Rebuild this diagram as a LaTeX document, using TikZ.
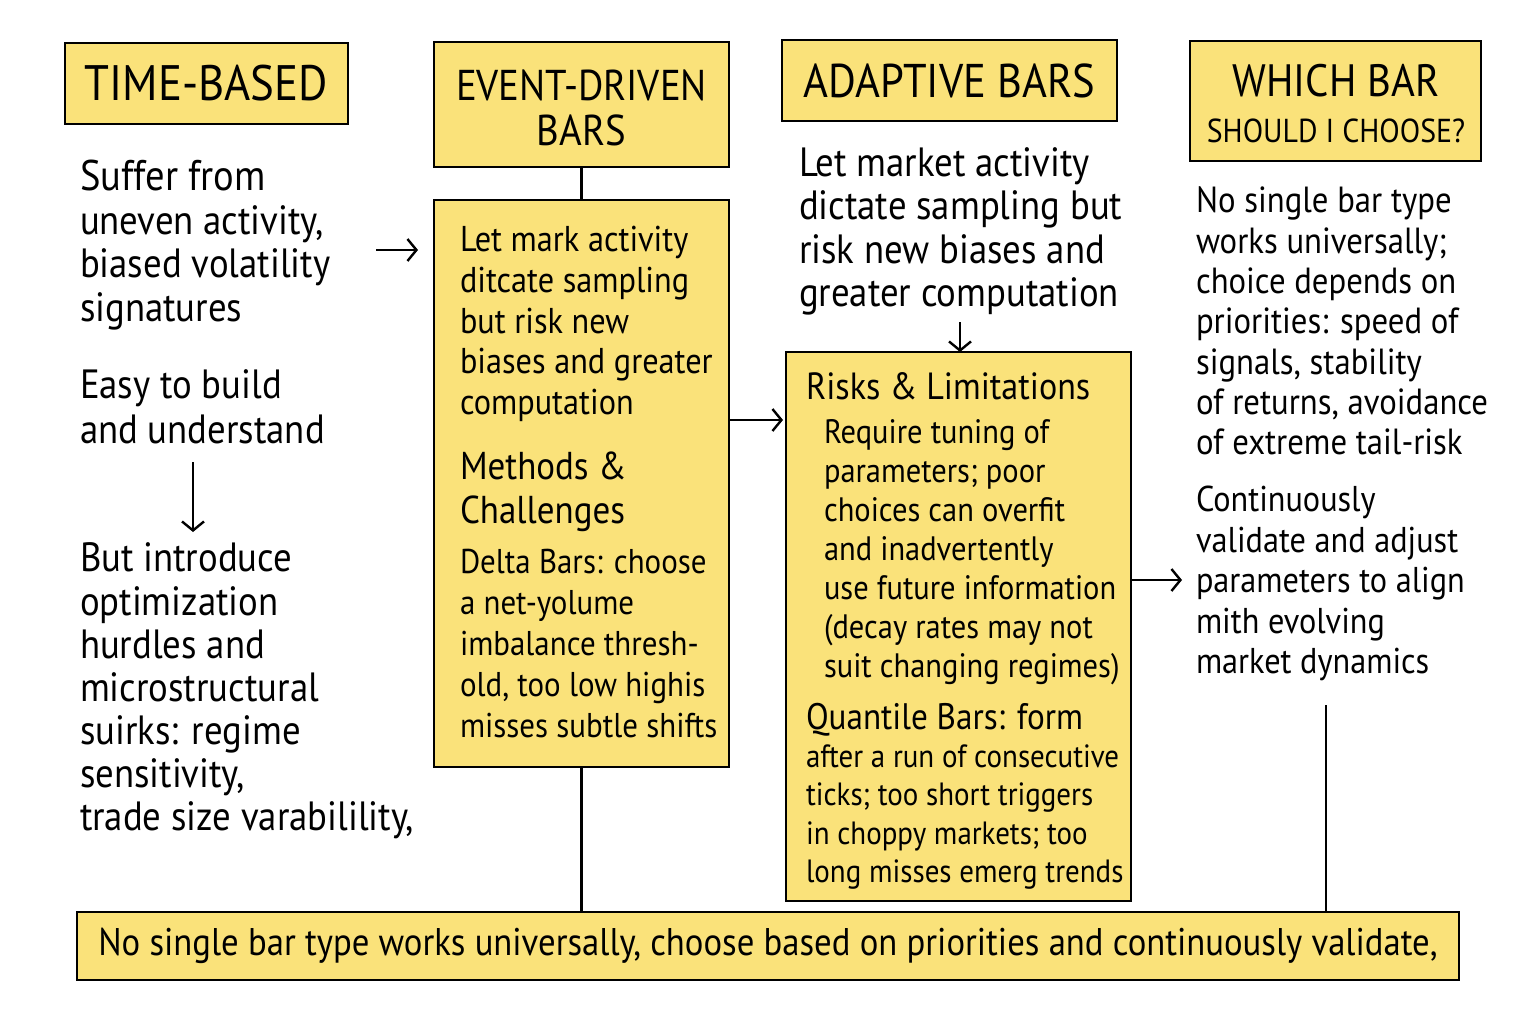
\documentclass[tikz,border=0pt]{standalone}
\usepackage{fontspec}
\setmainfont{PT Sans}[FakeStretch=0.9]
\usetikzlibrary{arrows.meta}
\definecolor{boxyellow}{RGB}{250,226,122}
\newcommand{\fsz}[2]{\fontsize{#1}{#2}\selectfont}
\begin{document}
\begin{tikzpicture}[x=1bp,y=-1bp,
  box/.style={draw=black,line width=2.8bp,fill=boxyellow,inner sep=0pt,outer sep=0pt,align=center},
  lbl/.style={inner sep=0pt,outer sep=0pt,align=center},
  txt/.style={anchor=north west,align=left,inner sep=0pt,outer sep=0pt},
  conn/.style={line width=2.4bp},
  arr/.style={line width=2.4bp,-{Straight Barb[length=9bp,width=22bp,line width=2.4bp]}}
]
\useasboundingbox[fill=white] (0,0) rectangle (1536,1024);

% header boxes
\node[box,minimum width=283bp,minimum height=81bp,font={\fsz{50}{50}}] (tb) at (206.5,83.5) {TIME-BASED};
\node[box,minimum width=295bp,minimum height=125bp] (eh) at (581.5,104.5) {};
\node[lbl,font={\fsz{43.3}{46}}] (eht) at (581.5,108) {EVENT-DRIVEN\\BARS};
\node[box,minimum width=335bp,minimum height=81bp,font={\fsz{47.5}{48}}] (ah) at (949.5,80.5) {ADAPTIVE BARS};
\node[box,minimum width=291bp,minimum height=120bp] (wh) at (1335.5,101) {};
\node[lbl,font={\fsz{45.5}{47}}] (wht) at (1336,103.5) {WHICH BAR\\\fsz{33.3}{47}SHOULD I CHOOSE?};

% content boxes
\node[box,minimum width=295bp,minimum height=567bp] (ec) at (581.5,483.5) {};
\node[box,minimum width=345bp,minimum height=549bp] (ac) at (958.5,626.5) {};
\node[box,minimum width=1382bp,minimum height=68bp,font={\fsz{38.7}{40}}] (bot) at (768,946) {No single bar type works universally, choose based on priorities and continuously validate,};

% left column
\node[txt,font={\fsz{41}{43.8}}] (l1) at (80,160) {\fsz{43}{43.8}Suffer from\\uneven activity,\\biased volatility\\signatures};
\node[txt,font={\fsz{41}{44.5}}] (l2) at (80,370) {Easy to build\\and understand};
\node[txt,font={\fsz{41}{43.3}}] (l3) at (80,543) {But introduce\\optimization\\hurdles and\\microstructural\\suirks: regime\\sensitivity,\\trade size varabilility,};

% event box text
\node[txt,font={\fsz{36}{41}}] (e1) at (460,226) {Let mark activity\\ditcate sampling\\but risk new\\biases and greater\\computation};
\node[txt,font={\fsz{39}{44}}] (e2) at (460,452) {Methods \&\\Challenges};
\node[txt,font={\fsz{34.5}{41.3}}] (e3) at (460,549) {Delta Bars: choose\\a net-yolume\\imbalance thresh-\\old, too low highis\\misses subtle shifts};

% adaptive text
\node[txt,font={\fsz{41}{43.2}}] (a1) at (799,148) {Let market activity\\dictate sampling but\\risk new biases and\\greater computation};
\node[txt,font={\fsz{38}{40}}] (a2) at (806,373) {Risks \& Limitations};
\node[txt,font={\fsz{34}{39}}] (a3) at (824,420) {Require tuning of\\parameters; poor\\choices can overfit\\and inadvertently\\use future information\\(decay rates may not\\suit changing regimes)};
\node[txt,font={\fsz{32.3}{38.5}}] (a4) at (806,703) {\fsz{37}{38.5}Quantile Bars: form\\after a run of consecutive\\ticks; too short triggers\\in choppy markets; too\\long misses emerg trends};

% right text
\node[txt,font={\fsz{36.5}{40.5}}] (r1) at (1196,187) {No single bar type\\works universally;\\choice depends on\\priorities: speed of\\signals, stability\\of returns, avoidance\\of extreme tail-risk};
\node[txt,font={\fsz{36}{40.7}}] (r2) at (1196,486) {Continuously\\validate and adjust\\parameters to align\\mith evolving\\market dynamics};

% connectors
\coordinate (la) at (376,250);
\coordinate (lb) at (418,250);
\coordinate (da) at (193,462);
\coordinate (db) at (193,532);
\coordinate (ma) at (960,322);
\coordinate (ra) at (1182,580);
\coordinate (rl) at (1326,705);

\draw[conn] (eh.south) -- (ec.north);
\draw[conn] (ec.south) -- (ec.south |- bot.north);
\draw[arr] (la) -- (lb);
\draw[arr] (da) -- (db);
\draw[arr] (ec.east |- 0,420) -- ([xshift=-3bp]ac.west |- 0,420);
\draw[arr] (ma) -- (ma |- ac.north);
\draw[arr] (ac.east |- ra) -- (ra);
\draw[conn] (rl) -- (rl |- bot.north);
\end{tikzpicture}
\end{document}
